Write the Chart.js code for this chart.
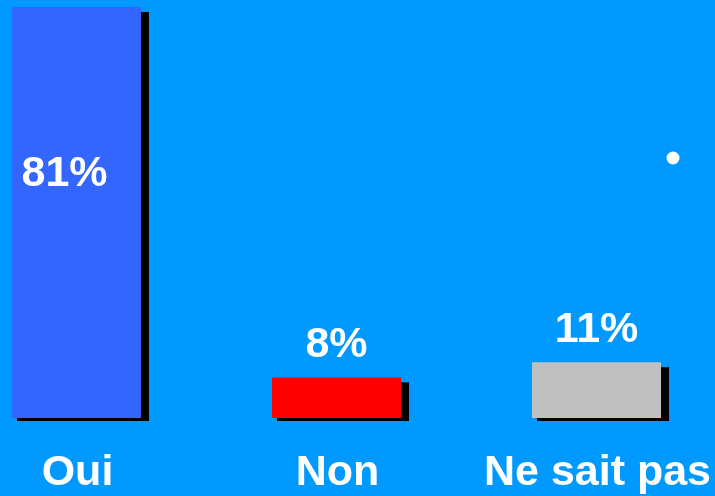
<!DOCTYPE html>
<html>
<head>
<meta charset="utf-8">
<script src="https://cdn.jsdelivr.net/npm/chart.js@4"></script>
<style>
  html, body { margin: 0; padding: 0; background: #0099ff; }
  #wrap { width: 715px; height: 496px; position: relative; }
</style>
</head>
<body>
<div id="wrap"><canvas id="chart"></canvas></div>
<script>
'use strict'

const categories = ['Oui', 'Non', 'Ne sait pas']
const values = [81, 8, 11]
const barColors = ['#3366ff', '#ff0000', '#c0c0c0']

const FONT = 'bold 43px "Liberation Sans", Arial, sans-serif'

// black drop shadow behind every bar
const barShadow = {
  id: 'barShadow',
  beforeDatasetsDraw(chart) {
    const ctx = chart.ctx
    ctx.save()
    ctx.fillStyle = '#000'
    chart.getDatasetMeta(0).data.forEach(bar => {
      const left = bar.x - bar.width / 2
      const right = bar.x + bar.width / 2
      ctx.fillRect(left + 5, bar.y + 5, right - left + 3, bar.base - bar.y - 2)
    })
    ctx.restore()
  }
}

// percentages and category names
const labels = {
  id: 'labels',
  afterDatasetsDraw(chart) {
    const ctx = chart.ctx
    const meta = chart.getDatasetMeta(0)
    ctx.save()
    ctx.fillStyle = '#fff'
    ctx.font = FONT
    ctx.textAlign = 'center'
    ctx.textBaseline = 'alphabetic'
    meta.data.forEach((bar, i) => {
      const text = values[i] + '%'
      if (values[i] > 50) {
        ctx.fillText(text, bar.x - 12, bar.y + 179)
      } else {
        ctx.fillText(text, bar.x, bar.y - 20)
      }
      ctx.fillText(categories[i], bar.x + 1, bar.base + 67)
    })
    // stray bullet on the right
    ctx.beginPath()
    ctx.arc(673, 158, 6.5, 0, Math.PI * 2)
    ctx.fill()
    ctx.restore()
  }
}

new Chart(document.getElementById('chart'), {
  type: 'bar',
  data: {
    labels: categories,
    datasets: [{
      data: values,
      backgroundColor: barColors,
      borderWidth: 0,
      barPercentage: 129 / 260,
      categoryPercentage: 1,
      clip: false
    }]
  },
  options: {
    responsive: true,
    maintainAspectRatio: false,
    animation: false,
    layout: { padding: { left: 76.5, right: 118.5, top: 7, bottom: 78 } },
    plugins: { legend: { display: false }, tooltip: { enabled: false } },
    scales: {
      x: { display: false, offset: false },
      y: { display: false, min: 0, max: 81 }
    }
  },
  plugins: [barShadow, labels]
})
</script>
</body>
</html>
